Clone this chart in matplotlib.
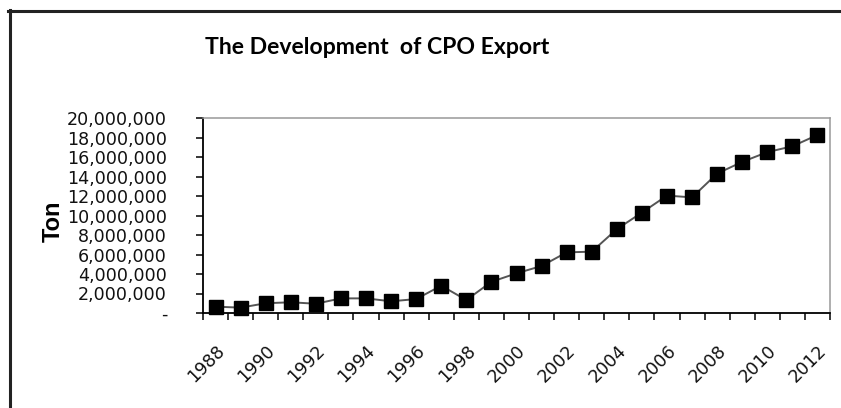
import matplotlib
matplotlib.use("Agg")
import matplotlib.pyplot as plt
from matplotlib.lines import Line2D
import numpy as np

years = list(range(1988, 2013))
exports = [0.65e6, 0.55e6, 1.0e6, 1.1e6, 0.95e6, 1.5e6, 1.5e6, 1.2e6, 1.43e6,
           2.8e6, 1.33e6, 3.2e6, 4.07e6, 4.82e6, 6.22e6, 6.29e6, 8.6e6,
           10.3e6, 12.04e6, 11.86e6, 14.3e6, 15.5e6, 16.5e6, 17.1e6, 18.26e6]
ytick_values = list(range(0, 20000001, 2000000))
title = "The Development  of CPO Export"
ylabel = "Ton"

W, H = 841, 408
DPI = 100
fig = plt.figure(figsize=(W / DPI, H / DPI), dpi=DPI)
fig.patch.set_facecolor("white")

ax = fig.add_axes([203 / W, 1 - 313 / H, (830 - 203) / W, (313 - 118) / H])

x = np.arange(len(years))
ax.plot(x, exports, color="#555555", lw=1.4, marker="s", markersize=9.5,
        markerfacecolor="black", markeredgecolor="black", zorder=3, clip_on=False)

ax.set_xlim(-0.5, len(years) - 0.5)
ax.set_ylim(0, 20000000)

renderer = fig.canvas.get_renderer()

def text_width(s, size, **kw):
    t = fig.text(0, 0, s, fontsize=size, **kw)
    w = t.get_window_extent(renderer).width
    t.remove()
    return w

tick_font = dict(family="DejaVu Sans")
w0 = text_width("20,000,000", 12, **tick_font)
tick_size = 12 * 100.0 / w0

# major ticks at category boundaries, labels at even-year category centres
ax.set_xticks(np.arange(len(years) + 1) - 0.5)
ax.set_xticklabels([])
lab_idx = [i for i, y in enumerate(years) if y % 2 == 0]
ax.set_xticks(lab_idx, minor=True)
ax.set_xticklabels([str(years[i]) for i in lab_idx], minor=True,
                   rotation=45, ha="right", va="top", rotation_mode="anchor",
                   fontsize=tick_size, color="#111111", **tick_font)
ax.tick_params(axis="x", which="minor", length=0, pad=(342 - 313) * 72 / DPI)
ax.tick_params(axis="x", which="major", length=5, width=1.1, direction="out", color="black")

ax.set_yticks(ytick_values)
ax.set_yticklabels(["-" if v == 0 else f"{v:,}" for v in ytick_values],
                   fontsize=tick_size, color="#111111", **tick_font)
ax.tick_params(axis="y", length=5, width=1.1, direction="out",
               pad=(203 - 5 - 169) * 72 / DPI, color="black")

for s in ["left", "bottom"]:
    ax.spines[s].set_color("black")
    ax.spines[s].set_linewidth(1.3)
for s in ["top", "right"]:
    ax.spines[s].set_color("#999999")
    ax.spines[s].set_linewidth(1.1)

fig.text(53 / W, 1 - 221 / H, ylabel, rotation=90, ha="center", va="center",
         fontsize=17, fontweight="bold", family="Liberation Sans", color="black")

title_font = dict(family="Lato", fontweight="bold")
tw = text_width(title, 14, **title_font)
title_size = 14 * 347.0 / tw
fig.text(205 / W, 1 - 48 / H, title, ha="left", va="center",
         fontsize=title_size, color="black", **title_font)

# outer frame (cut off on right and bottom)
fig.add_artist(Line2D([9.5 / W, 9.5 / W], [0, 1 - 9.5 / H], transform=fig.transFigure,
                      color="#222222", lw=2.2))
fig.add_artist(Line2D([8.4 / W, 1], [1 - 10.5 / H, 1 - 10.5 / H], transform=fig.transFigure,
                      color="#222222", lw=2.2))

fig.savefig("out.png", dpi=DPI)
